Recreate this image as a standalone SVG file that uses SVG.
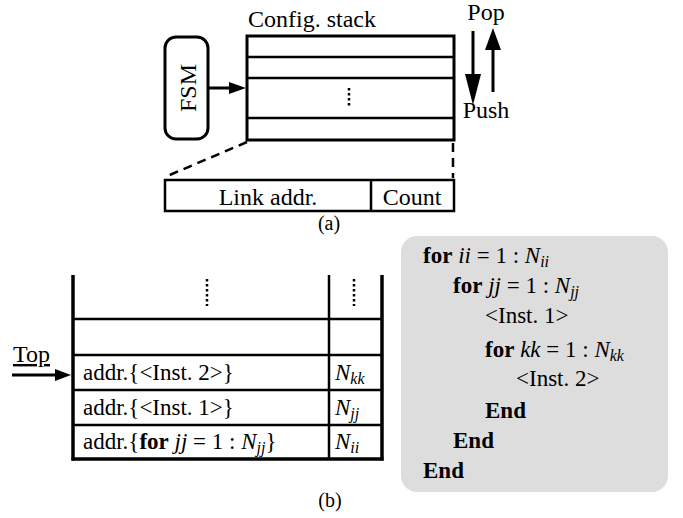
<svg xmlns="http://www.w3.org/2000/svg" width="683" height="518" viewBox="0 0 683 518">
<style>
text{font-family:"Liberation Serif","Times New Roman",serif;fill:#000}
.t24{font-size:24px}
.t23{font-size:23px}
.t20{font-size:20px}
.b{font-weight:bold}
.i{font-style:italic}
.sub{font-style:italic;font-size:16px}
.thick{stroke:#000;stroke-width:3;fill:none}
.thin{stroke:#000;stroke-width:2.5;fill:none}
.dash{stroke:#000;stroke-width:2.5;fill:none;stroke-dasharray:9,6}
.dots{stroke:#000;stroke-width:2.5;fill:none;stroke-dasharray:2.5,2.5}
</style>
<rect width="683" height="518" fill="#fff"/>

<!-- (a) -->
<g id="fsm">
<rect x="165" y="37" width="43" height="102" rx="11" class="thick" fill="#fff"/>
<text class="t24" x="188" y="96" text-anchor="middle" transform="rotate(-90 188 88)">FSM</text>
</g>

<g id="config-stack">
<text class="t24" x="248" y="27">Config. stack</text>
<rect x="247" y="36" width="207" height="104" class="thick"/>
<line x1="247" y1="57" x2="454" y2="57" class="thin"/>
<line x1="247" y1="78" x2="454" y2="78" class="thin"/>
<line x1="247" y1="118" x2="454" y2="118" class="thin"/>
<line x1="349" y1="88" x2="349" y2="108" class="dots"/>
</g>

<g id="entry">
<rect x="165" y="180" width="289" height="31" class="thin"/>
<line x1="371" y1="180" x2="371" y2="211" class="thin"/>
<text class="t24" x="268" y="205" text-anchor="middle">Link addr.</text>
<text class="t24" x="412" y="205" text-anchor="middle">Count</text>
</g>

<g id="pop-push">
<text class="t24" x="486" y="20" text-anchor="middle">Pop</text>
<text class="t24" x="486" y="118" text-anchor="middle">Push</text>
</g>

<g id="connectors">
<line x1="208" y1="88" x2="232" y2="88" class="thick"/>
<polygon points="229,82 246,88 229,94" fill="#000"/>
<line x1="493" y1="92" x2="493" y2="46" class="thick"/>
<polygon points="485,50 493,28 501,50" fill="#000"/>
<line x1="473" y1="31" x2="473" y2="78" class="thick"/>
<polygon points="465,74 473,105 481,74" fill="#000"/>
<line x1="247" y1="142" x2="165" y2="177" class="dash"/>
<line x1="453" y1="143" x2="453" y2="178" class="dash"/>
<line x1="12" y1="375" x2="58" y2="375" class="thick"/>
<polygon points="55,369 71,375 55,381" fill="#000"/>
</g>

<text class="t20" x="329" y="230" text-anchor="middle">(a)</text>

<!-- (b) table -->
<g id="table">
<line x1="73" y1="275" x2="73" y2="460.5" stroke="#000" stroke-width="3.5"/>
<line x1="382" y1="275" x2="382" y2="460.5" stroke="#000" stroke-width="3.5"/>
<line x1="329" y1="275" x2="329" y2="459" class="thin"/>
<line x1="71.5" y1="459" x2="383.5" y2="459" stroke="#000" stroke-width="3.5"/>
<line x1="73" y1="319" x2="382" y2="319" class="thin"/>
<line x1="73" y1="355" x2="382" y2="355" class="thin"/>
<line x1="73" y1="390" x2="382" y2="390" class="thin"/>
<line x1="73" y1="425" x2="382" y2="425" class="thin"/>
<line x1="207" y1="279" x2="207" y2="306" class="dots"/>
<line x1="354" y1="279" x2="354" y2="306" class="dots"/>
<text class="t23" x="83" y="380">addr.{&lt;Inst. 2&gt;}</text>
<text class="t23" x="83" y="415">addr.{&lt;Inst. 1&gt;}</text>
<text class="t23" x="83" y="449">addr.{<tspan class="b">for</tspan> <tspan class="i">jj</tspan> = 1 : <tspan class="i">N</tspan><tspan class="sub" dy="4">jj</tspan><tspan dy="-4">}</tspan></text>
<text class="t23" x="335" y="380"><tspan class="i">N</tspan><tspan class="sub" dy="4">kk</tspan></text>
<text class="t23" x="335" y="415"><tspan class="i">N</tspan><tspan class="sub" dy="4">jj</tspan></text>
<text class="t23" x="335" y="449"><tspan class="i">N</tspan><tspan class="sub" dy="4">ii</tspan></text>
</g>

<g id="top-label">
<text class="t24" x="13" y="362" text-decoration="underline">Top</text>
</g>

<text class="t20" x="330" y="507" text-anchor="middle">(b)</text>

<!-- code box -->
<g id="code">
<rect x="401" y="236" width="267" height="256" rx="16" fill="#dddddd"/>
<text class="t23" x="423" y="263"><tspan class="b">for</tspan> <tspan class="i">ii</tspan> = 1 : <tspan class="i">N</tspan><tspan class="sub" dy="4">ii</tspan></text>
<text class="t23" x="453" y="293"><tspan class="b">for</tspan> <tspan class="i">jj</tspan> = 1 : <tspan class="i">N</tspan><tspan class="sub" dy="4">jj</tspan></text>
<text class="t23" x="485" y="323">&lt;Inst. 1&gt;</text>
<text class="t23" x="485" y="357"><tspan class="b">for</tspan> <tspan class="i">kk</tspan> = 1 : <tspan class="i">N</tspan><tspan class="sub" dy="4">kk</tspan></text>
<text class="t23" x="516" y="386">&lt;Inst. 2&gt;</text>
<text class="t23 b" x="485" y="418">End</text>
<text class="t23 b" x="453" y="448">End</text>
<text class="t23 b" x="423" y="478">End</text>
</g>
</svg>
